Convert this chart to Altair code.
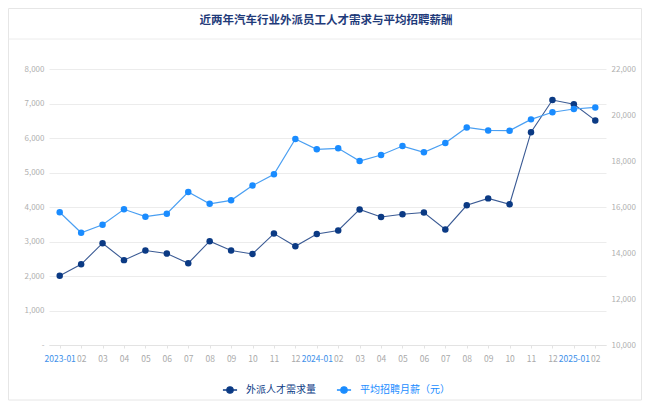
import altair as alt
import pandas as pd

months = [f"{y}-{m:02d}" for y in (2023, 2024) for m in range(1, 13)] + ["2025-01", "2025-02"]
demand = [2010, 2340, 2950, 2460, 2740, 2650, 2370, 3010, 2740, 2640, 3230, 2860, 3220,
          3320, 3930, 3710, 3790, 3840, 3350, 4050, 4250, 4080, 6170, 7100, 6980, 6510]
salary = [15770, 14880, 15230, 15900, 15580, 15710, 16650, 16140, 16290, 16930, 17420, 18960, 18510,
          18550, 18000, 18260, 18650, 18380, 18780, 19460, 19330, 19320, 19810, 20120, 20260, 20330]

s_demand = "外派人才需求量"
s_salary = "平均招聘月薪（元）"
title = "近两年汽车行业外派员工人才需求与平均招聘薪酬"

FONT = "Noto Sans CJK SC"
navy, navy_line = "#0b3a84", "#3a5a94"
blue, blue_line = "#1a8cff", "#4a9ff2"
grey_txt = "#b0b0b0"

df = pd.DataFrame({"month": months, "demand": demand, "salary": salary,
                   "s1": s_demand, "s2": s_salary})
one = pd.DataFrame({"k": [0]})

dot_path = "M-1,0L1,0M0.45,0A0.45,0.45,0,1,1,-0.45,0A0.45,0.45,0,1,1,0.45,0Z"


def make_legend(colour, x):
    return alt.Legend(
        title=None, orient="none", legendX=x, legendY=313, padding=0,
        symbolType=dot_path, symbolSize=200, symbolStrokeWidth=1.3,
        symbolFillColor=colour, symbolStrokeColor=colour, labelColor=colour,
        labelFont=FONT, labelFontSize=10, labelOffset=8,
    )


x_enc = alt.X(
    "month:O", sort=months, title=None,
    scale=alt.Scale(type="point", padding=0.5),
    axis=alt.Axis(
        orient="bottom", labelAngle=0, labelOverlap=False, labelBound=False,
        labelExpr="slice(datum.value, 5) == '01' ? datum.value : slice(datum.value, 5)",
        labelColor={"expr": "slice(datum.value, 5) == '01' ? '#3d90ea' : '#aaaaaa'"},
        labelFont=FONT, labelFontSize=8.5, labelPadding=6,
        domainColor="#e3e3e3", tickColor="#e3e3e3", tickSize=3, grid=False,
    ),
)

base = alt.Chart(df).encode(x=x_enc)

left_axis = alt.Axis(
    orient="left", values=list(range(0, 8001, 1000)), title=None, ticks=False, domain=False,
    labelExpr="datum.value == 0 ? '-' : format(datum.value, ',')",
    labelColor=grey_txt, labelFont=FONT, labelFontSize=8, labelPadding=5,
    grid=True, gridColor="#ececec",
)
right_axis = alt.Axis(
    orient="right", values=list(range(10000, 22001, 2000)), title=None, ticks=False, domain=False,
    labelExpr="format(datum.value, ',')",
    labelColor=grey_txt, labelFont=FONT, labelFontSize=8, labelPadding=5, grid=False,
)

y_demand = alt.Y("demand:Q", scale=alt.Scale(domain=[0, 8000]), axis=left_axis)
y_salary = alt.Y("salary:Q", scale=alt.Scale(domain=[10000, 22000]), axis=right_axis)

demand_layer = alt.layer(
    base.mark_line(color=navy_line, strokeWidth=1.1).encode(y=y_demand),
    base.mark_point(filled=True, size=42, opacity=1).encode(
        y=y_demand,
        color=alt.Color("s1:N", scale=alt.Scale(domain=[s_demand], range=[navy]),
                        legend=make_legend(navy, 173)),
    ),
)
salary_layer = alt.layer(
    base.mark_line(color=blue_line, strokeWidth=1.2).encode(y=y_salary),
    base.mark_point(filled=True, size=42, opacity=1).encode(
        y=y_salary,
        color=alt.Color("s2:N", scale=alt.Scale(domain=[s_salary], range=[blue]),
                        legend=make_legend(blue, 287)),
    ),
)

# card frame, header separator and heading
frame = alt.Chart(one).mark_rect(fill="transparent", stroke="#e6e6e6", strokeWidth=1).encode(
    x=alt.value(-40.5), x2=alt.value(592.5), y=alt.value(-60.5), y2=alt.value(331)
)
header = alt.Chart(one).mark_rule(color="#ececec", strokeWidth=1).encode(
    x=alt.value(-40.5), x2=alt.value(592.5), y=alt.value(-30)
)
heading = alt.Chart(one).mark_text(
    text=title, font=FONT, fontSize=11.5, fontWeight="bold", color="#1f3b7a",
    align="center", baseline="middle",
).encode(x=alt.value(277), y=alt.value(-48))

chart = (
    alt.layer(demand_layer, salary_layer, frame, header, heading)
    .resolve_scale(y="independent", color="independent")
    .properties(
        width=557, height=276,
        autosize=alt.AutoSizeParams(type="none"),
        padding={"left": 41, "top": 61, "right": 36, "bottom": 56},
    )
    .configure_view(strokeWidth=0)
)

chart.save("out.html", embed_options={"renderer": "svg", "actions": False})
